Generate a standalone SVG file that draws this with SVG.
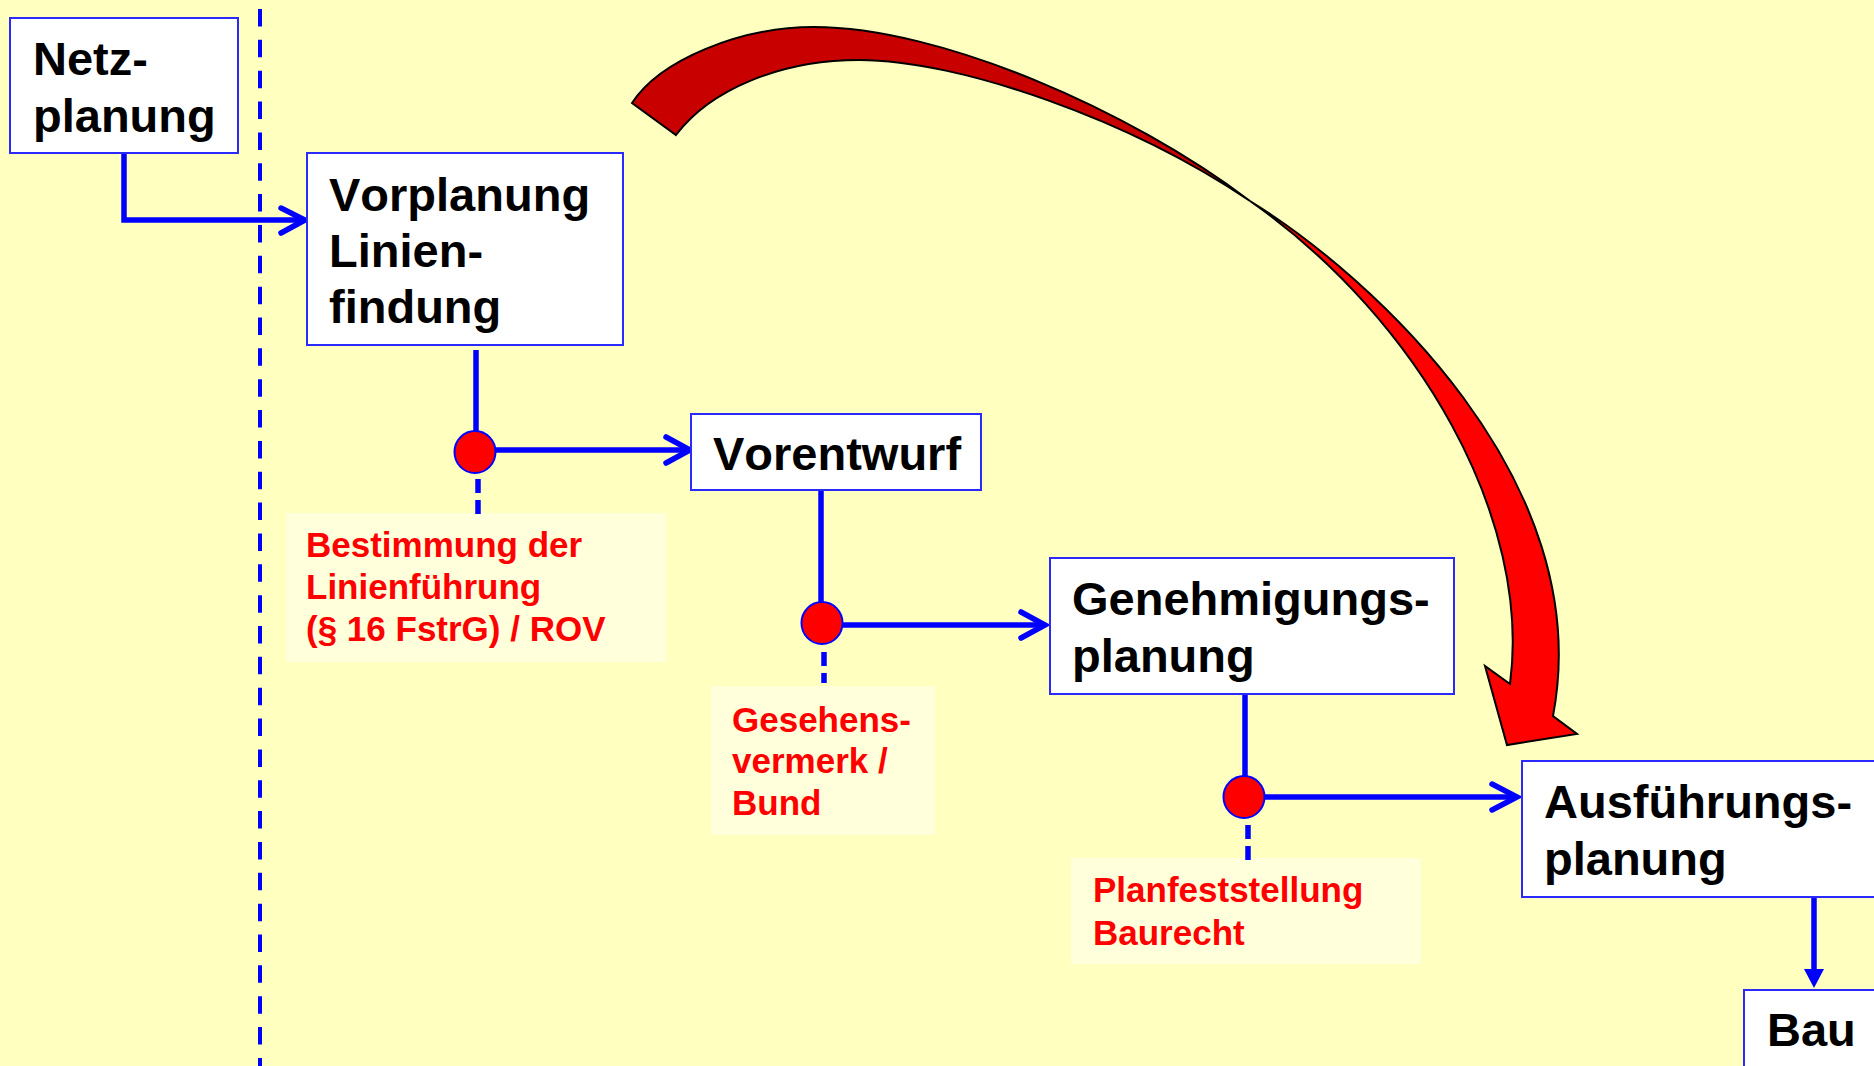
<svg xmlns="http://www.w3.org/2000/svg" width="1874" height="1066" viewBox="0 0 1874 1066">
<defs>
<style>
.box{fill:#FFFFFF;stroke:#2A2AFF;stroke-width:2}
.lbl{fill:#FFFFDC;stroke:none}
.t{font-family:"Liberation Sans",Arial,sans-serif;font-weight:bold;font-size:47px;fill:#000000;font-kerning:none}
.r{font-family:"Liberation Sans",Arial,sans-serif;font-weight:bold;font-size:35px;fill:#FF0000;font-kerning:none}
.ln{fill:none;stroke:#0000FF;stroke-width:5.5}
.chev{fill:none;stroke:#0000FF;stroke-width:5.5;stroke-linecap:round;stroke-linejoin:miter}
.dsh{fill:none;stroke:#0000FF;stroke-width:5.5;stroke-dasharray:14 7}
.dot{fill:#FF0000;stroke:#0000FF;stroke-width:2}
.arw{stroke:#000000;stroke-width:2;stroke-linejoin:miter}
</style>
</defs>
<rect x="0" y="0" width="1874" height="1066" fill="#FFFFC0"/>

<g id="divider">
<line x1="260" y1="9" x2="260" y2="1066" stroke="#0000FF" stroke-width="4" stroke-dasharray="17.5 13.35"/>
</g>

<g id="bigarrow">
<path class="arw" fill="#C80000" d="M632,103 C660,60 740,27 814,27 C940,27 1130,110 1250,201 C1130,120 960,60 859,60 C780,60 710,90 676,135 Z"/>
<path class="arw" fill="#FF0000" d="M1250,201 C1370,275 1598,480 1553,716 L1577,734 L1507,745 L1485,666 L1510,684 C1532,520 1420,320 1250,201 Z"/>
</g>

<g id="labels">
<g id="label-linie">
<rect class="lbl" x="286" y="513" width="380" height="149"/>
<text class="r" x="306" y="557">Bestimmung der</text>
<text class="r" x="306" y="599">Linienführung</text>
<text class="r" x="306" y="641">(§ 16 FstrG) / ROV</text>
</g>
<g id="label-gesehen">
<rect class="lbl" x="711" y="686" width="224" height="149"/>
<text class="r" x="732" y="732">Gesehens-</text>
<text class="r" x="732" y="773">vermerk /</text>
<text class="r" x="732" y="815">Bund</text>
</g>
<g id="label-plan">
<rect class="lbl" x="1071" y="858" width="350" height="106"/>
<text class="r" x="1093" y="902">Planfeststellung</text>
<text class="r" x="1093" y="945">Baurecht</text>
</g>
</g>

<g id="connectors">
<polyline class="ln" points="124,153 124,220 303,220"/>
<polyline class="chev" points="281,208 305,220 281,233"/>

<line class="ln" x1="476" y1="350" x2="476" y2="432"/>
<line class="ln" x1="496" y1="450" x2="689" y2="450"/>
<polyline class="chev" points="666,437 690,450 666,463"/>
<line class="dsh" x1="478" y1="479" x2="478" y2="515"/>

<line class="ln" x1="821" y1="490" x2="821" y2="602"/>
<line class="ln" x1="842" y1="625" x2="1044" y2="625"/>
<polyline class="chev" points="1021,612 1045,625 1021,638"/>
<line class="dsh" x1="824" y1="652" x2="824" y2="683"/>

<line class="ln" x1="1245" y1="694" x2="1245" y2="776"/>
<line class="ln" x1="1264" y1="797" x2="1516" y2="797"/>
<polyline class="chev" points="1492,784 1517,797 1492,810"/>
<line class="dsh" x1="1248" y1="825" x2="1248" y2="860"/>

<line class="ln" x1="1814" y1="897" x2="1814" y2="972"/>
<polygon points="1804,969 1824,969 1814,988" fill="#0000FF"/>
</g>

<g id="dots">
<ellipse class="dot" cx="475" cy="452" rx="20.5" ry="21"/>
<ellipse class="dot" cx="822" cy="623" rx="20.5" ry="21"/>
<ellipse class="dot" cx="1244" cy="797" rx="20.5" ry="21"/>
</g>

<g id="node-netz">
<rect class="box" x="10" y="18" width="228" height="135"/>
<text class="t" x="33" y="75">Netz-</text>
<text class="t" x="33" y="132">planung</text>
</g>

<g id="node-vorplanung">
<rect class="box" x="307" y="153" width="316" height="192"/>
<text class="t" x="329" y="211">Vorplanung</text>
<text class="t" x="329" y="267">Linien-</text>
<text class="t" x="329" y="323">findung</text>
</g>

<g id="node-vorentwurf">
<rect class="box" x="691" y="414" width="290" height="76"/>
<text class="t" x="713" y="470">Vorentwurf</text>
</g>

<g id="node-genehmigung">
<rect class="box" x="1050" y="558" width="404" height="136"/>
<text class="t" x="1072" y="615">Genehmigungs-</text>
<text class="t" x="1072" y="672">planung</text>
</g>

<g id="node-ausfuehrung">
<rect class="box" x="1522" y="761" width="360" height="136"/>
<text class="t" x="1544" y="818">Ausführungs-</text>
<text class="t" x="1544" y="875">planung</text>
</g>

<g id="node-bau">
<rect class="box" x="1744" y="990" width="140" height="90"/>
<text class="t" x="1767" y="1046">Bau</text>
</g>
</svg>
